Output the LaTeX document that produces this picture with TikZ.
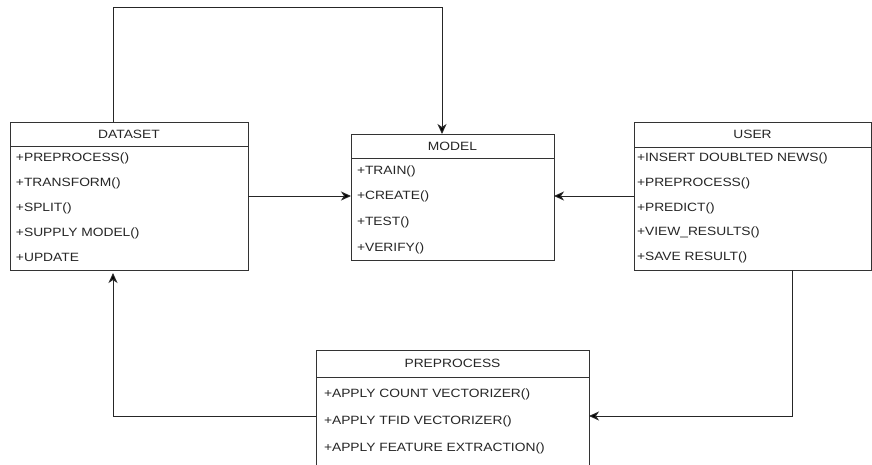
\documentclass[tikz,border=0pt]{standalone}
\usepackage{fontspec}
\setmainfont{Liberation Sans}[FakeStretch=1.15]
\usetikzlibrary{arrows.meta}

\begin{document}
\begin{tikzpicture}[x=1pt,y=-1pt,
	font=\fontsize{12}{14}\selectfont,
	head/.style={draw=black!80,line width=1pt,rectangle,inner sep=0,outer sep=0,text=black!85},
	body/.style={draw=black!80,line width=1pt,rectangle,inner sep=0,outer sep=0},
	row/.style={anchor=west,inner sep=0,outer sep=0,text=black!85},
	conn/.style={draw=black!85,line width=1pt,-{Stealth[length=10pt,width=9pt,inset=3pt,fill=black]}}]
	\clip (0,0) rectangle (872,464);
	\fill[white] (0,0) rectangle (872,464);
	% dataset
	\node[head,minimum width=238pt,minimum height=24pt] (dataset) at (129,134) {DATASET};
	\node[body,minimum width=238pt,minimum height=124pt] (datasetbody) at (129,208) {};
	\node[row] (ds1) at (16,158) {+PREPROCESS()};
	\node[row] (ds2) at (16,183) {+TRANSFORM()};
	\node[row] (ds3) at (16,208) {+SPLIT()};
	\node[row] (ds4) at (16,233) {+SUPPLY MODEL()};
	\node[row] (ds5) at (16,257) {+UPDATE};
	% model
	\node[head,minimum width=203pt,minimum height=24pt] (model) at (452.5,146) {MODEL};
	\node[body,minimum width=203pt,minimum height=102pt] (modelbody) at (452.5,209) {};
	\node[row] (md1) at (357,171) {+TRAIN()};
	\node[row] (md2) at (357,196) {+CREATE()};
	\node[row] (md3) at (357,222) {+TEST()};
	\node[row] (md4) at (357,248) {+VERIFY()};
	% user
	\node[head,minimum width=237pt,minimum height=25pt] (user) at (752.5,134.5) {USER};
	\node[body,minimum width=237pt,minimum height=123pt] (userbody) at (752.5,208.5) {};
	\node[row] (us1) at (637,158) {+INSERT DOUBLTED NEWS()};
	\node[row] (us2) at (637,183) {+PREPROCESS()};
	\node[row] (us3) at (637,208) {+PREDICT()};
	\node[row] (us4) at (637,232) {+VIEW\_RESULTS()};
	\node[row] (us5) at (637,257) {+SAVE RESULT()};
	% preprocess
	\node[head,minimum width=273pt,minimum height=27pt] (prep) at (452.5,363.5) {PREPROCESS};
	\node[body,minimum width=273pt,minimum height=100pt] (prepbody) at (452.5,427) {};
	\node[row] (pp1) at (324,394) {+APPLY COUNT VECTORIZER()};
	\node[row] (pp2) at (324,421) {+APPLY TFID VECTORIZER()};
	\node[row] (pp3) at (324,448) {+APPLY FEATURE EXTRACTION()};
	% connectors
	\coordinate (topleft) at (113,7);
	\coordinate (topright) at (442,7);
	\coordinate (ucorner) at (792,416);
	\coordinate (pcorner) at (113,416);
	\draw[conn] (dataset.north -| topleft) -- (topleft) -- (topright) -- (model.north -| topright);
	\draw[conn] (datasetbody.east |- md2.west) -- (modelbody.west |- md2.west);
	\draw[conn] (userbody.west |- md2.west) -- (modelbody.east |- md2.west);
	\draw[conn] (userbody.south -| ucorner) -- (ucorner) -- (prepbody.east |- ucorner);
	\draw[conn,shorten >=3pt] (prepbody.west |- pcorner) -- (pcorner) -- (datasetbody.south -| pcorner);
\end{tikzpicture}
\end{document}
